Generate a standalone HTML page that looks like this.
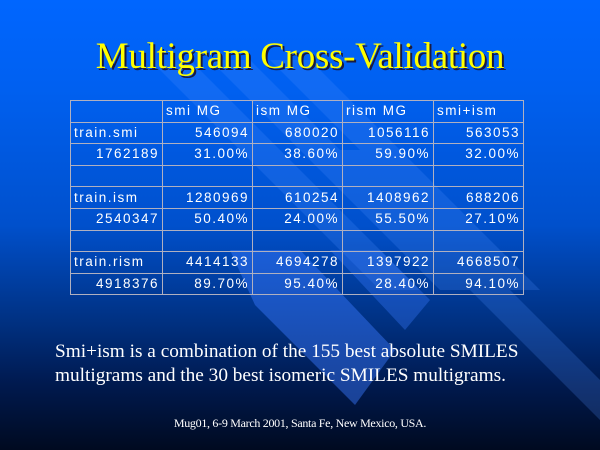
<!DOCTYPE html>
<html><head><meta charset="utf-8"><style>
body{margin:0;width:600px;height:450px;overflow:hidden;position:relative;
background:linear-gradient(to bottom,#0066ff 0%,#0060f0 20%,#0050cc 50%,#003080 72%,#001a50 85%,#000a20 100%);font-family:"Liberation Serif",serif}
svg.bg{position:absolute;left:0;top:0}
.title{position:absolute;top:35px;left:0;width:600px;text-align:center;font-size:37px;color:#ffff00;text-shadow:2px 2px 0 #1a1a40;letter-spacing:-0.3px}
table{position:absolute;left:70px;top:100px;border-collapse:collapse;font-family:"Liberation Sans",sans-serif;font-size:13.5px;color:#fff}
td{border:1px solid #b0b0c0;height:20.6px;padding:0 3px;text-align:right;letter-spacing:1.5px;line-height:14px}
td.l{text-align:left}
.body{position:absolute;left:55px;top:340px;font-size:19.3px;color:#fff;line-height:24px}
.foot{position:absolute;top:416px;left:0;width:600px;text-align:center;font-size:12px;color:#fff;letter-spacing:-0.3px}
</style></head><body>
<svg class="bg" width="600" height="450">
<g fill="#5090ff" opacity="0.22">
<polygon points="150,60 190,60 420,290 380,290"/>
<polygon points="210,60 250,60 480,290 440,290"/>
<polygon points="270,60 310,60 540,290 500,290"/>
<polygon points="330,150 370,150 600,380 600,420"/>
</g>
<polygon points="230,250 300,250 395,350 355,405 255,305" fill="#3a7aff" opacity="0.45"/>
<polygon points="330,250 380,250 430,300 405,330" fill="#3a7aff" opacity="0.35"/>
</svg>
<div class="title">Multigram Cross-Validation</div>
<table>
<col style="width:92px"><col style="width:90px"><col style="width:90px"><col style="width:91px"><col style="width:90px">
<tr><td></td><td class="l">smi MG</td><td class="l">ism MG</td><td class="l">rism MG</td><td class="l">smi+ism</td></tr>
<tr><td class="l">train.smi</td><td>546094</td><td>680020</td><td>1056116</td><td>563053</td></tr>
<tr><td>1762189</td><td>31.00%</td><td>38.60%</td><td>59.90%</td><td>32.00%</td></tr>
<tr><td></td><td></td><td></td><td></td><td></td></tr>
<tr><td class="l">train.ism</td><td>1280969</td><td>610254</td><td>1408962</td><td>688206</td></tr>
<tr><td>2540347</td><td>50.40%</td><td>24.00%</td><td>55.50%</td><td>27.10%</td></tr>
<tr><td></td><td></td><td></td><td></td><td></td></tr>
<tr><td class="l">train.rism</td><td>4414133</td><td>4694278</td><td>1397922</td><td>4668507</td></tr>
<tr><td>4918376</td><td>89.70%</td><td>95.40%</td><td>28.40%</td><td>94.10%</td></tr>
</table>
<div class="body">Smi+ism is a combination of the 155 best absolute SMILES<br>multigrams and the 30 best isomeric SMILES multigrams.</div>
<div class="foot">Mug01, 6-9 March 2001, Santa Fe, New Mexico, USA.</div>
</body></html>
